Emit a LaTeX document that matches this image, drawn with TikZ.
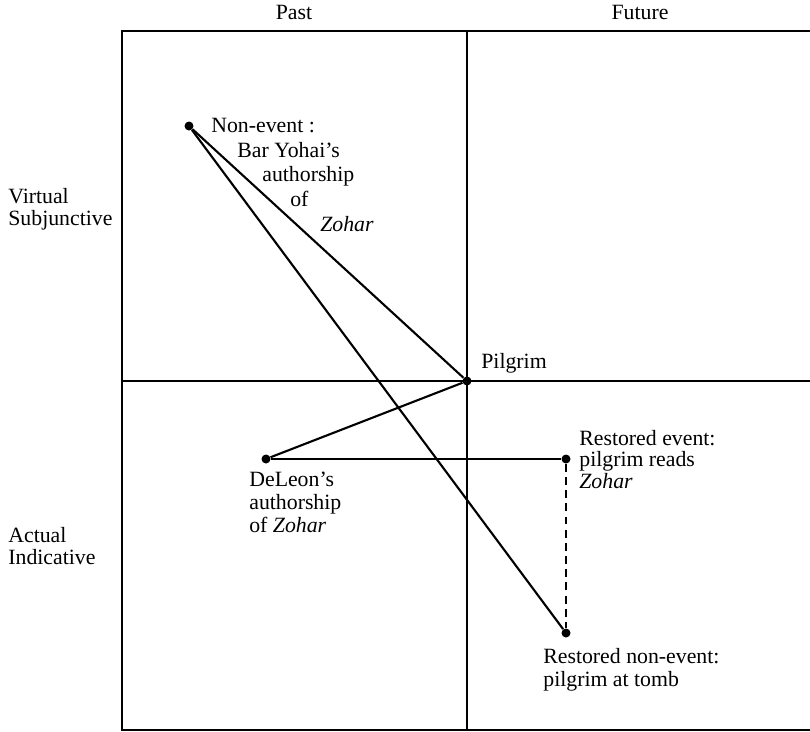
\documentclass[tikz,border=0pt]{standalone}
\usepackage{fontspec}
\setmainfont{Liberation Serif}
\begin{document}
\begin{tikzpicture}[x=0.02cm,y=-0.02cm,
    font=\fontsize{12.4}{12}\selectfont,
    dot/.style={circle,fill,inner sep=0pt,minimum size=0.18cm},
    lbl/.style={align=left,inner sep=0pt,anchor=base west},
    link/.style={line width=1.2pt}]
  \useasboundingbox (0,0) rectangle (810,731);
  % frame and quadrants
  \draw[line width=0.7pt] (810,31) -- (122,31) -- (122,730) -- (810,730);
  \draw[line width=0.6pt] (467,31) -- (467,730);
  \draw[line width=0.6pt] (122,381) -- (810,381);
  % axis labels (base = last line)
  \node[inner sep=0pt,anchor=base] (past) at (294,19) {Past};
  \node[inner sep=0pt,anchor=base] (future) at (640,19) {Future};
  \node[lbl] (virtual) at (8,225) {Virtual\\Subjunctive};
  \node[lbl] (actual) at (8,564) {Actual\\Indicative};
  % events
  \node[dot] (nonevent) at (189,126) {};
  \node[dot] (pilgrim) at (467,381) {};
  \node[dot] (deleon) at (266,459) {};
  \node[dot] (resev) at (566,459) {};
  \node[dot] (resnon) at (566,633) {};
  \node[lbl] (noneventtxt) at (211,231) {Non-event :\\[2pt]
    \hspace*{0.52cm}Bar Yohai's\\[2pt]
    \hspace*{1.02cm}authorship\\[2pt]
    \hspace*{1.58cm}of\\[2pt]
    \hspace*{2.18cm}\textit{Zohar}};
  \node[lbl] (pilgrimtxt) at (481,368) {Pilgrim};
  \node[lbl] (deleontxt) at (249,532) {DeLeon's\\[1pt]authorship\\[1pt]of \textit{Zohar}};
  \node[lbl] (resevtxt) at (579,488) {Restored event:\\pilgrim reads\\\textit{Zohar}};
  \node[lbl] (resnontxt) at (543,686) {Restored non-event:\\[1pt]pilgrim at tomb};
  % connections
  \draw[link] (nonevent) -- (pilgrim);
  \draw[link] (nonevent) -- (resnon);
  \draw[link] (pilgrim) -- (deleon);
  \draw[link] (deleon) -- (resev);
  \draw[link,dash pattern=on 4.5pt off 3pt] (resev) -- (resnon);
\end{tikzpicture}
\end{document}
